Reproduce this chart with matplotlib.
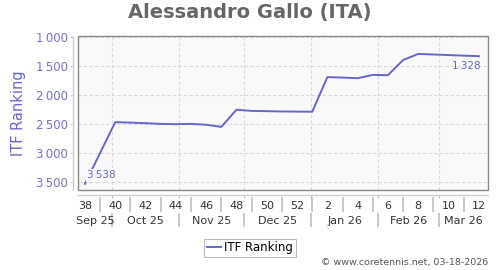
import datetime as dt
import matplotlib
matplotlib.use('Agg')
import matplotlib.pyplot as plt
import matplotlib.dates as mdates
from matplotlib.patches import Rectangle

title = "Alessandro Gallo (ITA)"
series_name = "ITF Ranking"
footer = "\u00a9 www.coretennis.net, 03-18-2026"

years = [2025] * 14 + [2026] * 12
weeks = [38, 40, 41, 42, 43, 44, 45, 46, 47, 48, 49, 50, 51, 52,
         1, 2, 3, 4, 5, 6, 7, 8, 9, 10, 11, 12]
ranking = [3538, 2470, 2478, 2488, 2500, 2505, 2500, 2515, 2552, 2255, 2275, 2280, 2285, 2287,
           2290, 1690, 1698, 1709, 1652, 1657, 1393, 1289, 1298, 1308, 1318, 1328]

month_labels = ["Sep 25", "Oct 25", "Nov 25", "Dec 25", "Jan 26", "Feb 26", "Mar 26"]
month_starts = [dt.date(2025, 9, 1), dt.date(2025, 10, 1), dt.date(2025, 11, 1), dt.date(2025, 12, 1),
                dt.date(2026, 1, 1), dt.date(2026, 2, 1), dt.date(2026, 3, 1), dt.date(2026, 4, 1)]
yticks = [1000, 1500, 2000, 2500, 3000, 3500]

line_color = '#6666cc'
tick_purple = '#7272cc'


def week_center(y, w):
    d = dt.datetime.combine(dt.date.fromisocalendar(y, w, 1), dt.time()) + dt.timedelta(days=3.5)
    return mdates.date2num(d)


x = [week_center(y, w) for y, w in zip(years, weeks)]

# all weeks in range for tick labels / separators
all_weeks = [(2025, w) for w in range(38, 53)] + [(2026, w) for w in range(1, 13)]

fig = plt.figure(figsize=(5, 2.7), dpi=100)
ax = fig.add_axes([78 / 500, 80 / 270, 410 / 500, 154 / 270])
ax.set_facecolor('#f9f9f9')

line, = ax.plot(x, ranking, color=line_color, lw=1.4, label=series_name, zorder=3)

xmin = mdates.date2num(dt.datetime(2025, 9, 15, 7))
xmax = mdates.date2num(dt.datetime(2026, 3, 23, 17))
ax.set_xlim(xmin, xmax)
ax.set_ylim(3645, 978)

# frame
for s in ['top', 'right']:
    ax.spines[s].set_visible(False)
for s in ['left', 'bottom']:
    ax.spines[s].set_position(('outward', 3.6))
    ax.spines[s].set_color('#cccccc')
    ax.spines[s].set_linewidth(1.0)
ax.add_patch(Rectangle((0, 0), 1, 1, transform=ax.transAxes, fill=False,
                       edgecolor='#888888', lw=1.0, zorder=5, clip_on=False))

# y axis
ax.set_yticks(yticks)
ax.set_yticklabels([f"{v:,}".replace(',', '\u2009') for v in yticks])
ax.tick_params(axis='y', length=2.2, color='#cccccc', labelcolor=tick_purple,
               labelsize=8.5, pad=1.5)
ax.set_ylabel(series_name, color=line_color, fontsize=10.5)
ax.yaxis.set_label_coords(-0.127, 0.5)

# x axis: month boundaries as major ticks + grid
mstart_x = [mdates.date2num(dt.datetime.combine(d, dt.time())) for d in month_starts]
inner_bounds = [m for m in mstart_x if xmin < m < xmax]
ax.set_xticks(inner_bounds)
ax.set_xticklabels([''] * len(inner_bounds))
ax.tick_params(axis='x', which='major', length=2.2, color='#bbbbbb')

even_x = [week_center(y, w) for y, w in all_weeks if w % 2 == 0]
even_lab = [str(w) for y, w in all_weeks if w % 2 == 0]
odd_x = [week_center(y, w) for y, w in all_weeks if w % 2 == 1]
ax.set_xticks(even_x, minor=True)
ax.set_xticklabels(even_lab, minor=True)
ax.tick_params(axis='x', which='minor', length=0, pad=4.5, labelsize=8, labelcolor='#333333')

ax.grid(True, which='major', axis='both', color='#d9d9d9', linestyle=(0, (3, 2)), lw=0.8)
ax.set_axisbelow(True)

# week separators
sec1 = ax.secondary_xaxis(-7 / 154)
sec1.spines['bottom'].set_visible(False)
sec1.set_xticks(odd_x)
sec1.set_xticklabels([''] * len(odd_x))
sec1.tick_params(axis='x', length=10.5, width=1.4, color='#c8c8c8')

# month labels + separators
sec2 = ax.secondary_xaxis(-23 / 154)
sec2.spines['bottom'].set_visible(False)
sec2.set_xticks(inner_bounds)
sec2.set_xticklabels([''] * len(inner_bounds))
sec2.tick_params(axis='x', which='major', length=10, width=1.4, color='#c8c8c8')
centers = []
for a, b in zip(mstart_x[:-1], mstart_x[1:]):
    lo, hi = max(a, xmin), min(b, xmax)
    centers.append((lo + hi) / 2)
sec2.set_xticks(centers, minor=True)
sec2.set_xticklabels(month_labels, minor=True)
sec2.tick_params(axis='x', which='minor', length=0, pad=2.5, labelsize=8, labelcolor='#333333')

# annotations
bg = ax.get_facecolor()
ax.annotate(f"{ranking[0]:,}".replace(',', '\u2009'), (x[0], ranking[0]), xytext=(1.5, 6),
            textcoords='offset points', ha='left', va='center', fontsize=7.5, color=line_color,
            bbox=dict(boxstyle='square,pad=0.1', fc=bg, ec='none'), zorder=4)
ax.annotate(f"{ranking[-1]:,}".replace(',', '\u2009'), (x[-1], ranking[-1]), xytext=(1, -7),
            textcoords='offset points', ha='right', va='center', fontsize=7.5, color=line_color,
            zorder=4)

# title, legend, footer
fig.text(0.5, 1 - 12.5 / 270, title, ha='center', va='center', fontsize=14,
         fontweight='bold', color='#666666')
leg = fig.legend(handles=[line], loc='center', bbox_to_anchor=(0.5, 1 - 248 / 270),
                 fontsize=8.5, frameon=True, fancybox=False, edgecolor='#aaaaaa',
                 handlelength=1.2, handletextpad=0.3, borderpad=0.2, borderaxespad=0)
leg.get_frame().set_linewidth(0.8)
fig.text(488 / 500, 1 - 262 / 270, footer, ha='right', va='center', fontsize=6.8, color='#555555')

fig.savefig('out.png', dpi=100)
